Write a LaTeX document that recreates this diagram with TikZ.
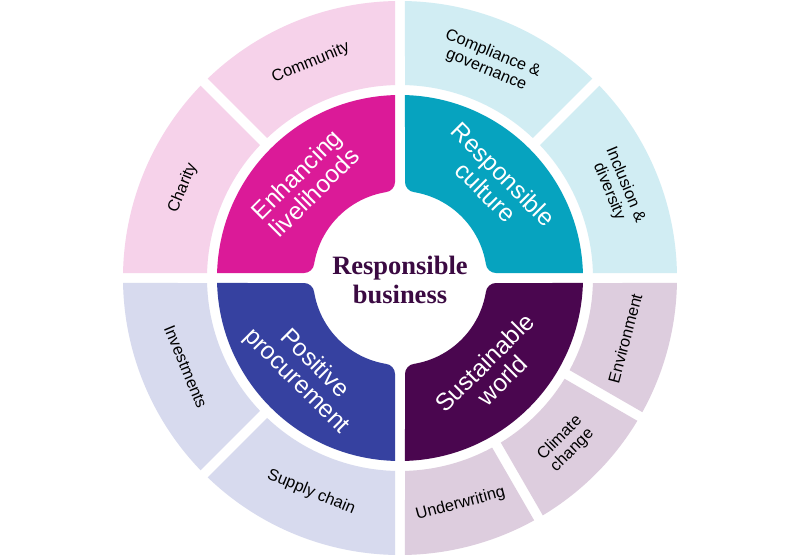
\documentclass[tikz,border=0pt]{standalone}
\usepackage{fontspec}
\setmainfont{Liberation Sans}
\newfontfamily\labfont{Liberation Sans}
\newfontfamily\centerfont{Liberation Serif}
\definecolor{pinkL}{HTML}{F6D2EA}
\definecolor{cyanL}{HTML}{D1EDF3}
\definecolor{lavL}{HTML}{D7DAEE}
\definecolor{mauveL}{HTML}{DDCDDE}
\definecolor{magQ}{HTML}{DB1A98}
\definecolor{tealQ}{HTML}{06A3BF}
\definecolor{blueQ}{HTML}{3641A0}
\definecolor{purpQ}{HTML}{4A064F}
\definecolor{centerC}{HTML}{3B0A42}
\newcommand\ringseg[3]{%
  \fill[#1] ({#2+1.034}:277) arc[start angle={#2+1.034}, end angle={#3-1.034}, radius=277]
    -- ({#3-1.485}:193) arc[start angle={#3-1.485}, end angle={#2+1.485}, radius=193] -- cycle;}
\newcommand\quadpath{(91.566:183) arc[start angle=91.566, end angle=178.434, radius=183]
  -- (-95.86,5) .. controls (-90.91,5) and (-86.42,9.02) .. (-85.88,13.94)
  arc[start angle=170.78, end angle=99.22, radius=87]
  .. controls (-9.02,86.42) and (-5,90.91) .. (-5,95.86) -- cycle}
\tikzset{
  outerlab/.style={font=\labfont\fontsize{16.3}{17.5}\selectfont, text=black, align=center, inner sep=0pt},
  innerlab/.style={font=\labfont\fontsize{24.5}{25}\selectfont, text=white, align=center, inner sep=0pt},
}
\begin{document}
\begin{tikzpicture}[x=1pt, y=1pt]
\useasboundingbox[fill=white] (-400,-279) rectangle (400,278);
% outer ring
\ringseg{pinkL}{90}{135}
\ringseg{pinkL}{135}{180}
\ringseg{cyanL}{0}{45}
\ringseg{cyanL}{45}{90}
\ringseg{lavL}{180}{225}
\ringseg{lavL}{225}{270}
\ringseg{mauveL}{270}{300}
\ringseg{mauveL}{300}{330}
\ringseg{mauveL}{330}{360}
% inner quadrants
\fill[magQ] \quadpath;
\begin{scope}[rotate=-90]\fill[tealQ] \quadpath;\end{scope}
\begin{scope}[rotate=90]\fill[blueQ] \quadpath;\end{scope}
\begin{scope}[rotate=180]\fill[purpQ] \quadpath;\end{scope}
% outer labels
\node[outerlab, rotate=22.5] (community) at (112.5:233) {Community};
\node[outerlab, rotate=67.5] (charity) at (157.5:235) {Charity};
\node[outerlab, rotate=-22.5] (compliance) at (67.5:234) {Compliance \&\\governance};
\node[outerlab, rotate=-67.5] (inclusion) at (22.5:235) {Inclusion \&\\diversity};
\node[outerlab, rotate=-67.5] (investments) at (202.5:232) {Investments};
\node[outerlab, rotate=-22.5] (supply) at (247.5:232) {Supply chain};
\node[outerlab, rotate=15] (underwriting) at (285:234) {Underwriting};
\node[outerlab, rotate=45] (climate) at (315:235) {Climate\\change};
\node[outerlab, rotate=75] (environment) at (345:233) {Environment};
% inner labels
\node[innerlab, rotate=45] (enhancing) at (135:134) {Enhancing\\livelihoods};
\node[innerlab, rotate=-45] (culture) at (45:134) {Responsible\\culture};
\node[innerlab, rotate=-45] (procurement) at (225:134) {Positive\\procurement};
\node[innerlab, rotate=45] (sustainable) at (315:132) {Sustainable\\world};
% center
\node[font=\centerfont\bfseries\fontsize{26.5}{28.5}\selectfont, text=centerC, align=center, inner sep=0pt] (center) at (0,-2) {Responsible\\business};
\end{tikzpicture}
\end{document}
